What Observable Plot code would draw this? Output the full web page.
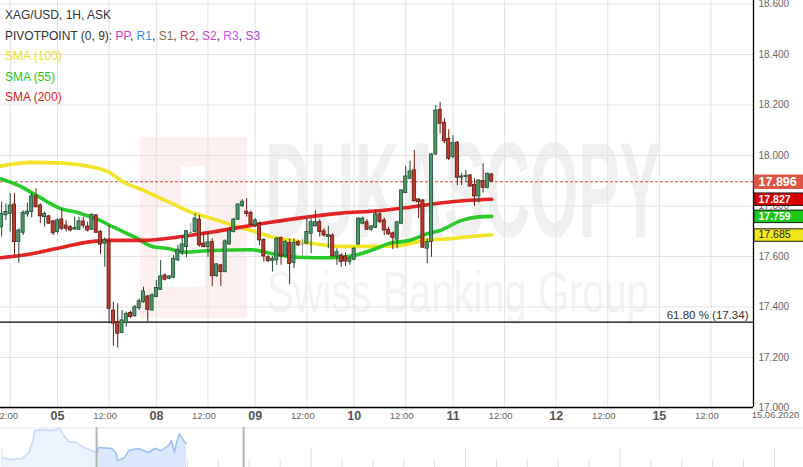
<!DOCTYPE html>
<html><head><meta charset="utf-8">
<script src="https://cdn.jsdelivr.net/npm/d3@7"></script>
<script src="https://cdn.jsdelivr.net/npm/@observablehq/plot@0.6"></script>
<style>
body{margin:0;background:#fff;font-family:Arial,"Liberation Sans",sans-serif;}
#wrap{position:relative;width:803px;height:467px;overflow:hidden;background:#fff;}
#chart svg,#nav svg{display:block;}
#legend{position:absolute;left:5px;top:5px;font-size:12px;line-height:20.5px;color:#333;white-space:nowrap;}
</style></head><body>
<div id="wrap"><div id="chart"></div><div id="nav"></div><div id="legend"></div></div>
<script>
// ---------- legend texts ----------
const titleText = "XAG/USD, 1H, ASK";
const pivotTitle = "PIVOTPOINT (0, 9): ";
const pivotLabels = ["PP", "R1", "S1", "R2", "S2", "R3", "S3"];
const pivotColors = ["#e233c8", "#3a8ede", "#8a6a3c", "#c2456a", "#d440da", "#c955ea", "#a642e2"];
const smaLabels = ["SMA (100)", "SMA (55)", "SMA (200)"];
const smaColors = ["#f0e21a", "#1ec81e", "#e01818"];

// ---------- x axis (hour slots, trading time; 0 = 05 Jun 00:00) ----------
const hourTicks = [-11, 12, 35, 58, 81, 104, 128, 152];
const hourLabel = "12:00";
const dayTicks = [0, 23, 46, 69, 92, 116, 140];
const dayLabels = ["05", "08", "09", "10", "11", "12", "15"];
const endDateSlot = [167];
const endDateLabel = ["15.06.2020"];

// ---------- y axis ----------
const yTicks = [17.0, 17.2, 17.4, 17.6, 17.8, 18.0, 18.2, 18.4, 18.6];

// ---------- candles: [open, high, low, close], consecutive hourly slots ----------
const firstSlot = -13;
const candleOHLC = [
 [17.716,17.815,17.677,17.769],[17.763,17.809,17.743,17.776],[17.769,17.849,17.697,17.802],[17.806,17.849,17.604,17.657],
 [17.657,17.710,17.574,17.703],[17.694,17.782,17.683,17.773],[17.767,17.811,17.756,17.778],[17.776,17.849,17.753,17.838],
 [17.838,17.868,17.793,17.795],[17.802,17.809,17.730,17.759],[17.756,17.776,17.716,17.769],[17.759,17.763,17.728,17.730],
 [17.739,17.743,17.683,17.692],[17.697,17.750,17.690,17.743],[17.747,17.789,17.703,17.710],[17.723,17.743,17.697,17.710],
 [17.716,17.723,17.697,17.703],[17.707,17.756,17.703,17.712],[17.706,17.756,17.703,17.739],[17.739,17.756,17.710,17.722],
 [17.719,17.736,17.697,17.703],[17.706,17.769,17.703,17.765],[17.763,17.765,17.692,17.694],[17.697,17.703,17.608,17.647],
 [17.651,17.674,17.558,17.664],[17.660,17.723,17.334,17.393],[17.386,17.419,17.245,17.334],[17.340,17.413,17.237,17.294],
 [17.297,17.386,17.294,17.347],[17.336,17.380,17.320,17.373],[17.377,17.384,17.354,17.360],[17.363,17.406,17.360,17.399],
 [17.395,17.433,17.386,17.423],[17.419,17.479,17.415,17.462],[17.442,17.446,17.340,17.389],[17.386,17.453,17.384,17.446],
 [17.439,17.505,17.437,17.475],[17.468,17.584,17.466,17.521],[17.525,17.532,17.503,17.508],[17.512,17.525,17.508,17.521],
 [17.516,17.604,17.512,17.591],[17.584,17.644,17.582,17.627],[17.617,17.683,17.604,17.648],[17.637,17.703,17.595,17.700],
 [17.695,17.732,17.683,17.695],[17.697,17.769,17.693,17.750],[17.746,17.763,17.637,17.644],[17.651,17.697,17.635,17.637],
 [17.637,17.697,17.597,17.656],[17.657,17.670,17.481,17.522],[17.522,17.571,17.518,17.569],[17.565,17.569,17.481,17.538],
 [17.538,17.666,17.536,17.660],[17.648,17.716,17.644,17.703],[17.697,17.752,17.693,17.746],[17.746,17.809,17.743,17.806],
 [17.799,17.825,17.795,17.817],[17.778,17.829,17.756,17.768],[17.773,17.780,17.723,17.726],[17.723,17.750,17.714,17.743],
 [17.730,17.736,17.644,17.664],[17.666,17.670,17.578,17.600],[17.597,17.604,17.575,17.582],[17.582,17.600,17.538,17.591],
 [17.584,17.677,17.565,17.670],[17.673,17.677,17.565,17.600],[17.600,17.664,17.597,17.657],[17.653,17.670,17.488,17.571],
 [17.574,17.670,17.552,17.653],[17.657,17.664,17.640,17.644],[17.648,17.670,17.604,17.648],[17.651,17.750,17.647,17.697],
 [17.690,17.750,17.611,17.736],[17.720,17.782,17.716,17.736],[17.736,17.746,17.677,17.697],[17.700,17.710,17.677,17.683],
 [17.677,17.719,17.631,17.685],[17.683,17.690,17.597,17.601],[17.600,17.631,17.565,17.617],[17.604,17.611,17.558,17.578],
 [17.600,17.615,17.560,17.580],[17.578,17.600,17.565,17.591],[17.587,17.635,17.584,17.631],[17.648,17.753,17.644,17.750],
 [17.730,17.756,17.726,17.750],[17.736,17.746,17.703,17.706],[17.706,17.723,17.700,17.719],[17.714,17.785,17.710,17.767],
 [17.767,17.775,17.730,17.736],[17.743,17.752,17.683,17.703],[17.706,17.716,17.683,17.688],[17.692,17.697,17.627,17.674],
 [17.667,17.740,17.631,17.735],[17.730,17.864,17.726,17.862],[17.851,17.957,17.849,17.917],[17.908,17.978,17.904,17.937],
 [17.941,18.020,17.815,17.819],[17.826,17.829,17.750,17.815],[17.822,17.825,17.631,17.635],[17.631,17.670,17.571,17.657],
 [17.657,18.007,17.597,18.004],[18.004,18.198,18.000,18.178],[18.181,18.211,18.086,18.126],[18.130,18.146,18.047,18.056],
 [18.066,18.102,17.980,17.987],[17.994,18.079,17.987,18.049],[18.051,18.056,17.881,17.912],[17.912,17.930,17.881,17.917],
 [17.915,17.941,17.894,17.920],[17.921,17.925,17.875,17.877],[17.884,17.908,17.798,17.838],[17.838,17.904,17.811,17.901],
 [17.899,17.967,17.851,17.872],[17.871,17.930,17.868,17.928],[17.925,17.928,17.894,17.896]
];

// ---------- moving averages: [slot, value] ----------
const sma100 = [[-13.3,17.958],[-6,17.973],[0,17.971],[6,17.961],[12,17.934],[15,17.898],[20,17.862],[26,17.815],[31,17.776],
 [36,17.750],[41,17.723],[45,17.703],[50,17.677],[58,17.655],[66,17.640],[74,17.640],[80,17.644],[86,17.666],[91,17.670],[95,17.677],[101,17.686]];
const sma55 = [[-13.3,17.908],[-9,17.881],[-4,17.833],[0,17.795],[5,17.772],[9,17.750],[13,17.716],[18,17.677],[22,17.640],[26,17.631],
 [29,17.617],[36,17.624],[45,17.627],[50,17.611],[56,17.597],[64,17.595],[69,17.604],[74,17.631],[77,17.651],[82,17.664],[86,17.690],
 [89,17.703],[94,17.743],[98,17.757],[101,17.759]];
const sma200 = [[-13.3,17.595],[-6,17.611],[2,17.640],[7,17.657],[12,17.664],[20,17.664],[28,17.677],[36,17.697],[45,17.723],[50,17.737],
 [58,17.756],[66,17.772],[74,17.780],[81,17.793],[89,17.812],[95,17.822],[101,17.827]];

// ---------- levels & price tags ----------
const fibLevel = [17.34];
const fibLabel = "61.80 %";
const lastPrice = [17.896];
const tagValues = [17.896, 17.827, 17.759, 17.685];
const tagFills = ["#dc5646", "#d70000", "#19c819", "#f2e61c"];
const tagTextColors = ["#ffffff", "#ffffff", "#ffffff", "#222222"];

// ---------- navigator ----------
const navDay = [0,0.23,0.65,0.87,1.0,1.06,1.29,1.61,1.87,2.0,2.16,2.42,2.65,2.9,3.06,3.13,3.55,3.68,3.74,3.97,4.1,4.42,4.74,4.94,5.16,5.39,5.48,5.58,5.65,5.74,5.87,5.97];
const navVal = [10,8,9,15,27,37,38,37,39,32,26,25,20,17,15,20,19,15,7,10,17,19,15,19,17,22,27,15,25,34,27,24];
const navSelection = [3.06, 7.82];

// ================= build =================
const FONT = "Arial, 'Liberation Sans', sans-serif";
// legend
const leg = document.getElementById("legend");
leg.innerHTML =
  `<div>${titleText}</div>` +
  `<div>${pivotTitle}${pivotLabels.map((l,i)=>`<span style="color:${pivotColors[i]}">${l}</span>`).join(", ")}</div>` +
  smaLabels.map((l,i)=>`<div style="color:${smaColors[i]}">${l}</div>`).join("");

const candles = candleOHLC.map(([o,h,l,c], i) => ({s: firstSlot + i, o, h, l, c}));
const up = candles.filter(d => d.c > d.o);
const down = candles.filter(d => d.c < d.o);
const flat = candles.filter(d => d.c === d.o);
const hw = 0.36;
const dayLabelOf = new Map(dayTicks.map((t,i)=>[t, dayLabels[i]]));

const boxSymbol = (w, h) => ({draw(ctx){ctx.moveTo(-w/2,-h/2);ctx.lineTo(w/2,-h/2);ctx.lineTo(w/2,h/2);ctx.lineTo(-w/2,h/2);ctx.closePath();}});

const tagMarks = tagValues.flatMap((v, i) => [
  Plot.dot([v], {y: d => d, frameAnchor: "right", dx: 25.5, r: 5,
    symbol: i === 0 ? boxSymbol(51, 14.5) : boxSymbol(50, 12.5),
    fill: tagFills[i], stroke: i === 0 ? "none" : "#1a1a1a", strokeWidth: 1}),
  Plot.text([v], {y: d => d, frameAnchor: "right", dx: 5, textAnchor: "start", text: d => d.toFixed(3),
    fill: tagTextColors[i], fontSize: i === 0 ? 12.5 : 10.5, fontWeight: i === 3 ? "normal" : "bold"})
]);

const chart = Plot.plot({
  width: 803, height: 427, marginLeft: 0, marginRight: 50, marginTop: 0, marginBottom: 20,
  style: {fontFamily: FONT, background: "transparent"},
  x: {type: "linear", domain: [-13.26, 161.9], axis: null},
  y: {type: "linear", domain: [17.002, 18.614], axis: null},
  marks: [
    Plot.gridY(yTicks, {stroke: "#e3e3e3", strokeOpacity: 1}),
    Plot.gridX(hourTicks.concat(dayTicks), {stroke: "#e3e3e3", strokeOpacity: 1}),
    Plot.ruleY(fibLevel, {stroke: "#000", strokeWidth: 1.3}),
    Plot.text(fibLevel, {y: d => d, frameAnchor: "right", dx: -5, dy: -7, textAnchor: "end",
      text: d => `${fibLabel} (${d.toFixed(2)})`, fontSize: 11.5, fill: "#333"}),
    Plot.ruleY(lastPrice, {stroke: "#cf4a3a", strokeDasharray: "3,2", strokeWidth: 1}),
    Plot.line(sma100, {x: d => d[0], y: d => d[1], stroke: smaColors[0], strokeWidth: 3.6, curve: "monotone-x", strokeOpacity: 0.95}),
    Plot.line(sma55, {x: d => d[0], y: d => d[1], stroke: smaColors[1], strokeWidth: 3.6, curve: "monotone-x", strokeOpacity: 0.95}),
    Plot.line(sma200, {x: d => d[0], y: d => d[1], stroke: smaColors[2], strokeWidth: 3.6, curve: "monotone-x", strokeOpacity: 0.95}),
    // wicks
    Plot.ruleX(up, {x: "s", y1: "l", y2: "h", stroke: "#1f4a31", strokeWidth: 1}),
    Plot.ruleX(down, {x: "s", y1: "l", y2: "h", stroke: "#6a1c12", strokeWidth: 1}),
    Plot.ruleX(flat, {x: "s", y1: "l", y2: "h", stroke: "#9a9a9a", strokeWidth: 1}),
    // bodies
    Plot.rect(up, {x1: d => d.s - hw, x2: d => d.s + hw, y1: "o", y2: "c", fill: "#4b9a6b", stroke: "#1f4a31", strokeWidth: 0.8}),
    Plot.rect(down, {x1: d => d.s - hw, x2: d => d.s + hw, y1: "o", y2: "c", fill: "#bf3a2a", stroke: "#5a1810", strokeWidth: 0.8}),
    Plot.ruleY(flat, {y: "o", x1: d => d.s - hw, x2: d => d.s + hw, stroke: "#9a9a9a", strokeWidth: 1}),
    // frame lines
    Plot.ruleY([17.002], {stroke: "#000", strokeWidth: 1.3}),
    Plot.ruleX([161.9], {stroke: "#000", strokeWidth: 1.3}),
    // axes
    Plot.axisY(yTicks, {anchor: "right", tickSize: 0, tickPadding: 5, tickFormat: d3.format(".3f"),
      fontSize: 10, fill: "#666", color: "#666", label: null}),
    Plot.axisX(hourTicks, {anchor: "bottom", tickSize: 0, tickPadding: 5, tickFormat: () => hourLabel,
      fontSize: 9.5, fill: "#666", color: "#666", dx: -4, label: null}),
    Plot.axisX(dayTicks, {anchor: "bottom", tickSize: 0, tickPadding: 4, tickFormat: d => dayLabelOf.get(d),
      fontSize: 12.5, fontWeight: "bold", fill: "#555", color: "#555", label: null}),
    Plot.text(endDateSlot, {x: d => d, frameAnchor: "bottom", dy: 10, text: () => endDateLabel[0],
      fontSize: 9.5, fill: "#666"}),
    ...tagMarks
  ]
});

// watermark (decoration) placed behind the grid
const wm = d3.create("svg:g").attr("pointer-events", "none").attr("text-anchor", "start");
wm.append("rect").attr("x", 140).attr("y", 137).attr("width", 107).attr("height", 181).attr("fill", "#fdf0f0");
wm.append("rect").attr("x", 181).attr("y", 166).attr("width", 24).attr("height", 121).attr("fill", "#ffffff");
wm.append("rect").attr("x", 158).attr("y", 207).attr("width", 24).attr("height", 80).attr("fill", "#ffffff");
wm.append("text").attr("x", 265).attr("y", 237).attr("font-size", 136).attr("font-weight", "bold").attr("text-anchor", "start")
  .attr("font-family", FONT).attr("fill", "#f0f0f0").attr("textLength", 396).attr("lengthAdjust", "spacingAndGlyphs").text("DUKASCOPY");
wm.append("text").attr("x", 267).attr("y", 312).attr("font-size", 58).attr("text-anchor", "start")
  .attr("font-family", FONT).attr("fill", "#f3f3f3").attr("textLength", 382).attr("lengthAdjust", "spacingAndGlyphs").text("Swiss Banking Group");
const firstMark = chart.querySelector("style") ? chart.querySelector("style").nextSibling : chart.firstChild;
chart.insertBefore(wm.node(), firstMark);
document.getElementById("chart").append(chart);

// navigator
const navData = navDay.map((d, i) => ({d, v: navVal[i]}));
const before = navData.filter(p => p.d <= navSelection[0]);
const inside = navData.filter(p => p.d >= navSelection[0]);
const navTicks = d3.range(0, 26);
const nav = Plot.plot({
  width: 803, height: 40, margin: 0,
  style: {background: "transparent"},
  x: {type: "linear", domain: [-0.05, 25.94], axis: null},
  y: {type: "linear", domain: [0, 40], axis: null},
  marks: [
    Plot.ruleX(navTicks, {y1: 0, y2: d => d % 5 === 0 ? 20 : 8, stroke: "#e0e0e0"}),
    Plot.areaY(before, {x: "d", y: "v", fill: "#edf3fd"}),
    Plot.lineY(before, {x: "d", y: "v", stroke: "#c4d9f8"}),
    Plot.areaY(inside, {x: "d", y: "v", fill: "#dbe7fb"}),
    Plot.lineY(inside, {x: "d", y: "v", stroke: "#9dbff2"}),
    Plot.ruleY([39.6], {stroke: "#e6e6e6"}),
    Plot.ruleX(navSelection, {stroke: "#b4b4b4", strokeWidth: 2})
  ]
});
document.getElementById("nav").append(nav);
</script></body></html>
